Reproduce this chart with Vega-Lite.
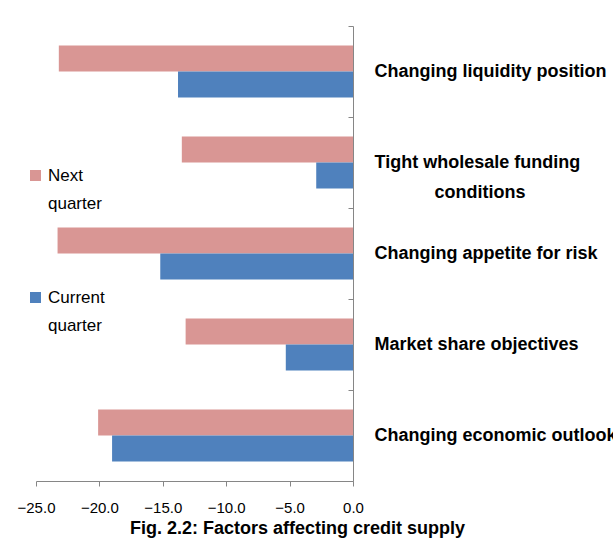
{
  "$schema": "https://vega.github.io/schema/vega-lite/v6.json",
  "autosize": "none",
  "width": 317,
  "height": 455,
  "padding": {"left": 36, "top": 26, "right": 260, "bottom": 71},
  "background": "white",
  "config": {"view": {"stroke": null}, "font": "Liberation Sans"},
  "title": {
    "text": "Fig. 2.2: Factors affecting credit supply",
    "orient": "bottom",
    "anchor": "middle",
    "dx": 103,
    "offset": 5,
    "font": "Liberation Sans",
    "fontSize": 18,
    "fontWeight": "bold",
    "color": "black"
  },
  "data": {
    "values": [
      {"factor": "Changing liquidity position", "series": "Next quarter", "value": -23.2},
      {"factor": "Changing liquidity position", "series": "Current quarter", "value": -13.8},
      {"factor": "Tight wholesale funding conditions", "series": "Next quarter", "value": -13.5},
      {"factor": "Tight wholesale funding conditions", "series": "Current quarter", "value": -2.9},
      {"factor": "Changing appetite for risk", "series": "Next quarter", "value": -23.3},
      {"factor": "Changing appetite for risk", "series": "Current quarter", "value": -15.2},
      {"factor": "Market share objectives", "series": "Next quarter", "value": -13.2},
      {"factor": "Market share objectives", "series": "Current quarter", "value": -5.3},
      {"factor": "Changing economic outlook", "series": "Next quarter", "value": -20.1},
      {"factor": "Changing economic outlook", "series": "Current quarter", "value": -19.0}
    ]
  },
  "mark": {"type": "bar"},
  "encoding": {
    "x": {
      "field": "value",
      "type": "quantitative",
      "scale": {"domain": [-25, 0], "nice": false, "zero": false},
      "axis": {
        "title": null,
        "values": [-25, -20, -15, -10, -5, 0],
        "format": ".1f",
        "grid": false,
        "domainColor": "#868686",
        "tickColor": "#868686",
        "tickSize": 5,
        "labelFont": "Liberation Sans",
        "labelFontSize": 15,
        "labelColor": "black",
        "labelPadding": 14,
        "labelFlush": false
      }
    },
    "y": {
      "field": "factor",
      "type": "nominal",
      "sort": [
        "Changing liquidity position",
        "Tight wholesale funding conditions",
        "Changing appetite for risk",
        "Market share objectives",
        "Changing economic outlook"
      ],
      "scale": {"paddingInner": 0, "paddingOuter": 0},
      "axis": {
        "orient": "right",
        "title": null,
        "domainColor": "#868686",
        "tickColor": "#868686",
        "tickBand": "extent",
        "tickSize": -5,
        "labelPadding": 26,
        "labelAlign": "left",
        "labelFont": "Liberation Sans",
        "labelFontSize": 18,
        "labelFontWeight": "bold",
        "labelColor": "black",
        "labelLimit": 400,
        "labelLineHeight": 30,
        "labelExpr": "datum.value == 'Tight wholesale funding conditions' ? ['Tight wholesale funding', '\u200b\u00a0\u00a0\u00a0\u00a0\u00a0\u00a0\u00a0\u00a0\u00a0\u00a0\u00a0\u00a0conditions'] : datum.value"
      }
    },
    "yOffset": {
      "field": "series",
      "type": "nominal",
      "sort": ["Next quarter", "Current quarter"],
      "scale": {"paddingInner": 0, "paddingOuter": 0.75}
    },
    "color": {
      "field": "series",
      "type": "nominal",
      "sort": ["Next quarter", "Current quarter"],
      "scale": {"domain": ["Next quarter", "Current quarter"], "range": ["#D99694", "#4F81BD"]},
      "legend": {
        "title": null,
        "orient": "none",
        "legendX": -9,
        "legendY": 141,
        "padding": 0,
        "symbolType": "square",
        "symbolSize": 121,
        "symbolStrokeWidth": 0,
        "labelFont": "Liberation Sans",
        "labelFontSize": 17,
        "labelColor": "black",
        "labelOffset": 4,
        "rowPadding": 76,
        "labelLimit": 200,
        "labelExpr": "split(datum.label, ' ')",
        "encode": {"labels": {"update": {"lineHeight": {"value": 28}}}}
      }
    }
  }
}
